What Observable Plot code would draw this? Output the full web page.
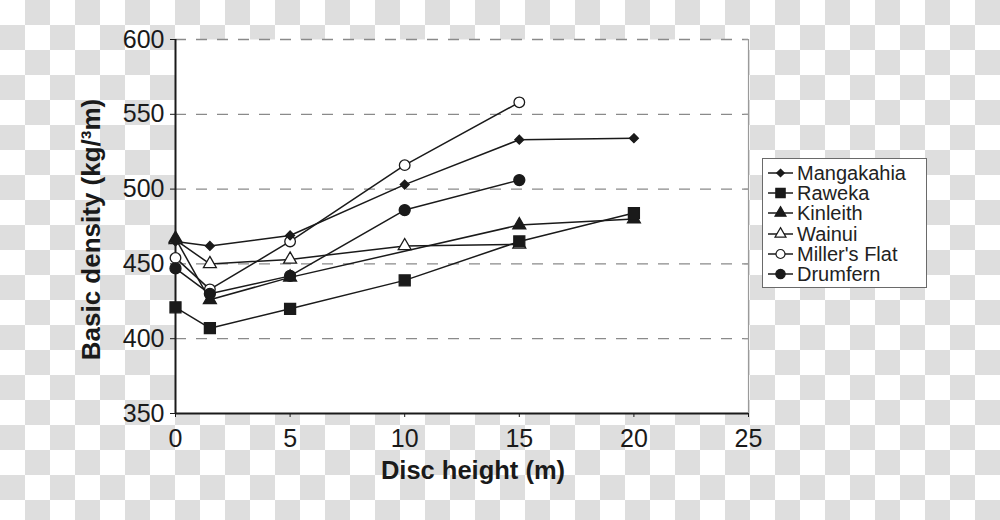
<!DOCTYPE html>
<html>
<head>
<meta charset="utf-8">
<script src="https://cdn.jsdelivr.net/npm/d3@7"></script>
<script src="https://cdn.jsdelivr.net/npm/@observablehq/plot@0.6"></script>
<style>
  html, body { margin: 0; padding: 0; }
  body {
    width: 1000px; height: 520px; overflow: hidden;
    background-color: #fff;
    background-image: conic-gradient(#dedede 25%, #ffffff 0 50%, #dedede 0 75%, #ffffff 0);
    background-size: 50px 50px;
    font-family: "Liberation Sans", Arial, sans-serif;
  }
  #wrap { position: relative; width: 1000px; height: 520px; }
  #legend {
    position: absolute; left: 762px; top: 158px; width: 165px; height: 130px;
    box-sizing: border-box; border: 1px solid #6a6a6a; background: #fff;
    padding-top: 4px;
  }
  .item { display: flex; align-items: center; height: 20.2px; color: #222; font-size: 20px; line-height: 20px; white-space: nowrap; }
  .item svg { display: block; margin-left: 4px; margin-right: 3px; }
</style>
</head>
<body>
<div id="wrap"><div id="chart"></div><div id="legend"></div></div>
<script>
// ---- data ----
const heights = [0, 1.5, 5, 10, 15, 20];
const seriesNames = ["Mangakahia", "Raweka", "Kinleith", "Wainui", "Miller's Flat", "Drumfern"];
const mangakahia  = [465, 462, 469, 503, 533, 534];
const raweka      = [421, 407, 420, 439, 465, 484];
const kinleith    = [467, 426, 441, null, 476, 480];
const wainui      = [466, 450, 453, 462, 463, null];
const millersFlat = [454, 433, 465, 516, 558, null];
const drumfern    = [447, 430, 442, 486, 506, null];
const yTicks = [350, 400, 450, 500, 550, 600];
const xTicks = [0, 5, 10, 15, 20, 25];
const xTitle = "Disc height (m)";
const yTitle = "Basic density (kg/³m)";

const values = [mangakahia, raweka, kinleith, wainui, millersFlat, drumfern];
const symbols = ["diamond2", "square", "triangle", "triangle", "circle", "circle"];
const fills = ["#1a1a1a", "#1a1a1a", "#1a1a1a", "#fff", "#fff", "#1a1a1a"];
const radii = [4, 6.2, 4.8, 4.8, 5.3, 5.5];
const drawOrder = [3, 4, 2, 1, 0, 5];

const rows = [];
seriesNames.forEach((s, k) => values[k].forEach((v, i) => {
  if (v != null) rows.push({series: s, x: heights[i], y: v});
}));

const ink = "#1a1a1a";
const marks = [
  Plot.frame({fill: "white", stroke: "none"}),
  Plot.ruleY(yTicks.filter(d => d > 350), {stroke: "#8a8a8a", strokeWidth: 1.3, strokeDasharray: "11,10"}),
  Plot.ruleX([25], {stroke: "#9a9a9a", strokeWidth: 1.2}),
  Plot.ruleY(yTicks, {x1: 24.83, x2: 25, stroke: "#9a9a9a"}),
  Plot.axisY({ticks: yTicks, tickSize: 5, tickPadding: 6, fontSize: 25, label: null}),
  Plot.axisX({ticks: xTicks, tickSize: 4, tickPadding: 12, fontSize: 25, label: null}),
  Plot.ruleX([0], {stroke: ink, strokeWidth: 2}),
  Plot.ruleY([350], {stroke: ink, strokeWidth: 2}),
  Plot.line(rows, {x: "x", y: "y", z: "series", stroke: ink, strokeWidth: 1.5})
];
for (const k of drawOrder) {
  marks.push(Plot.dot(rows.filter(d => d.series === seriesNames[k]), {
    x: "x", y: "y", symbol: symbols[k], r: radii[k], fill: fills[k], stroke: ink, strokeWidth: 1.3
  }));
}
marks.push(
  Plot.text([xTitle], {frameAnchor: "bottom", textAnchor: "middle", dx: 11, dy: 65, fontSize: 25.5, fontWeight: "bold", fill: ink}),
  Plot.text([yTitle], {frameAnchor: "left", textAnchor: "middle", dx: -84, dy: 3, rotate: -90, fontSize: 26, fontWeight: "bold", fill: ink})
);

const chart = Plot.plot({
  width: 1000, height: 520,
  marginLeft: 175, marginRight: 252, marginTop: 39, marginBottom: 107,
  x: {domain: [0, 25]},
  y: {domain: [350, 600]},
  style: {background: "transparent", fontFamily: "'Liberation Sans', Arial, sans-serif", color: ink, overflow: "visible"},
  marks
});
document.getElementById("chart").appendChild(chart);

// legend
const symMap = {diamond2: d3.symbolDiamond2, square: d3.symbolSquare, triangle: d3.symbolTriangle, circle: d3.symbolCircle};
const legend = document.getElementById("legend");
seriesNames.forEach((s, k) => {
  const r = radii[k] * 0.85;
  const path = d3.symbol(symMap[symbols[k]], Math.PI * r * r)();
  const div = document.createElement("div");
  div.className = "item";
  div.innerHTML = `<svg width="27" height="20"><line x1="1" x2="26" y1="10" y2="10" stroke="${ink}" stroke-width="1.5"/>` +
    `<path d="${path}" transform="translate(13.5,10)" fill="${fills[k]}" stroke="${ink}" stroke-width="1.2"/></svg>` +
    `<span></span>`;
  div.querySelector("span").textContent = s;
  legend.appendChild(div);
});
</script>
</body>
</html>
